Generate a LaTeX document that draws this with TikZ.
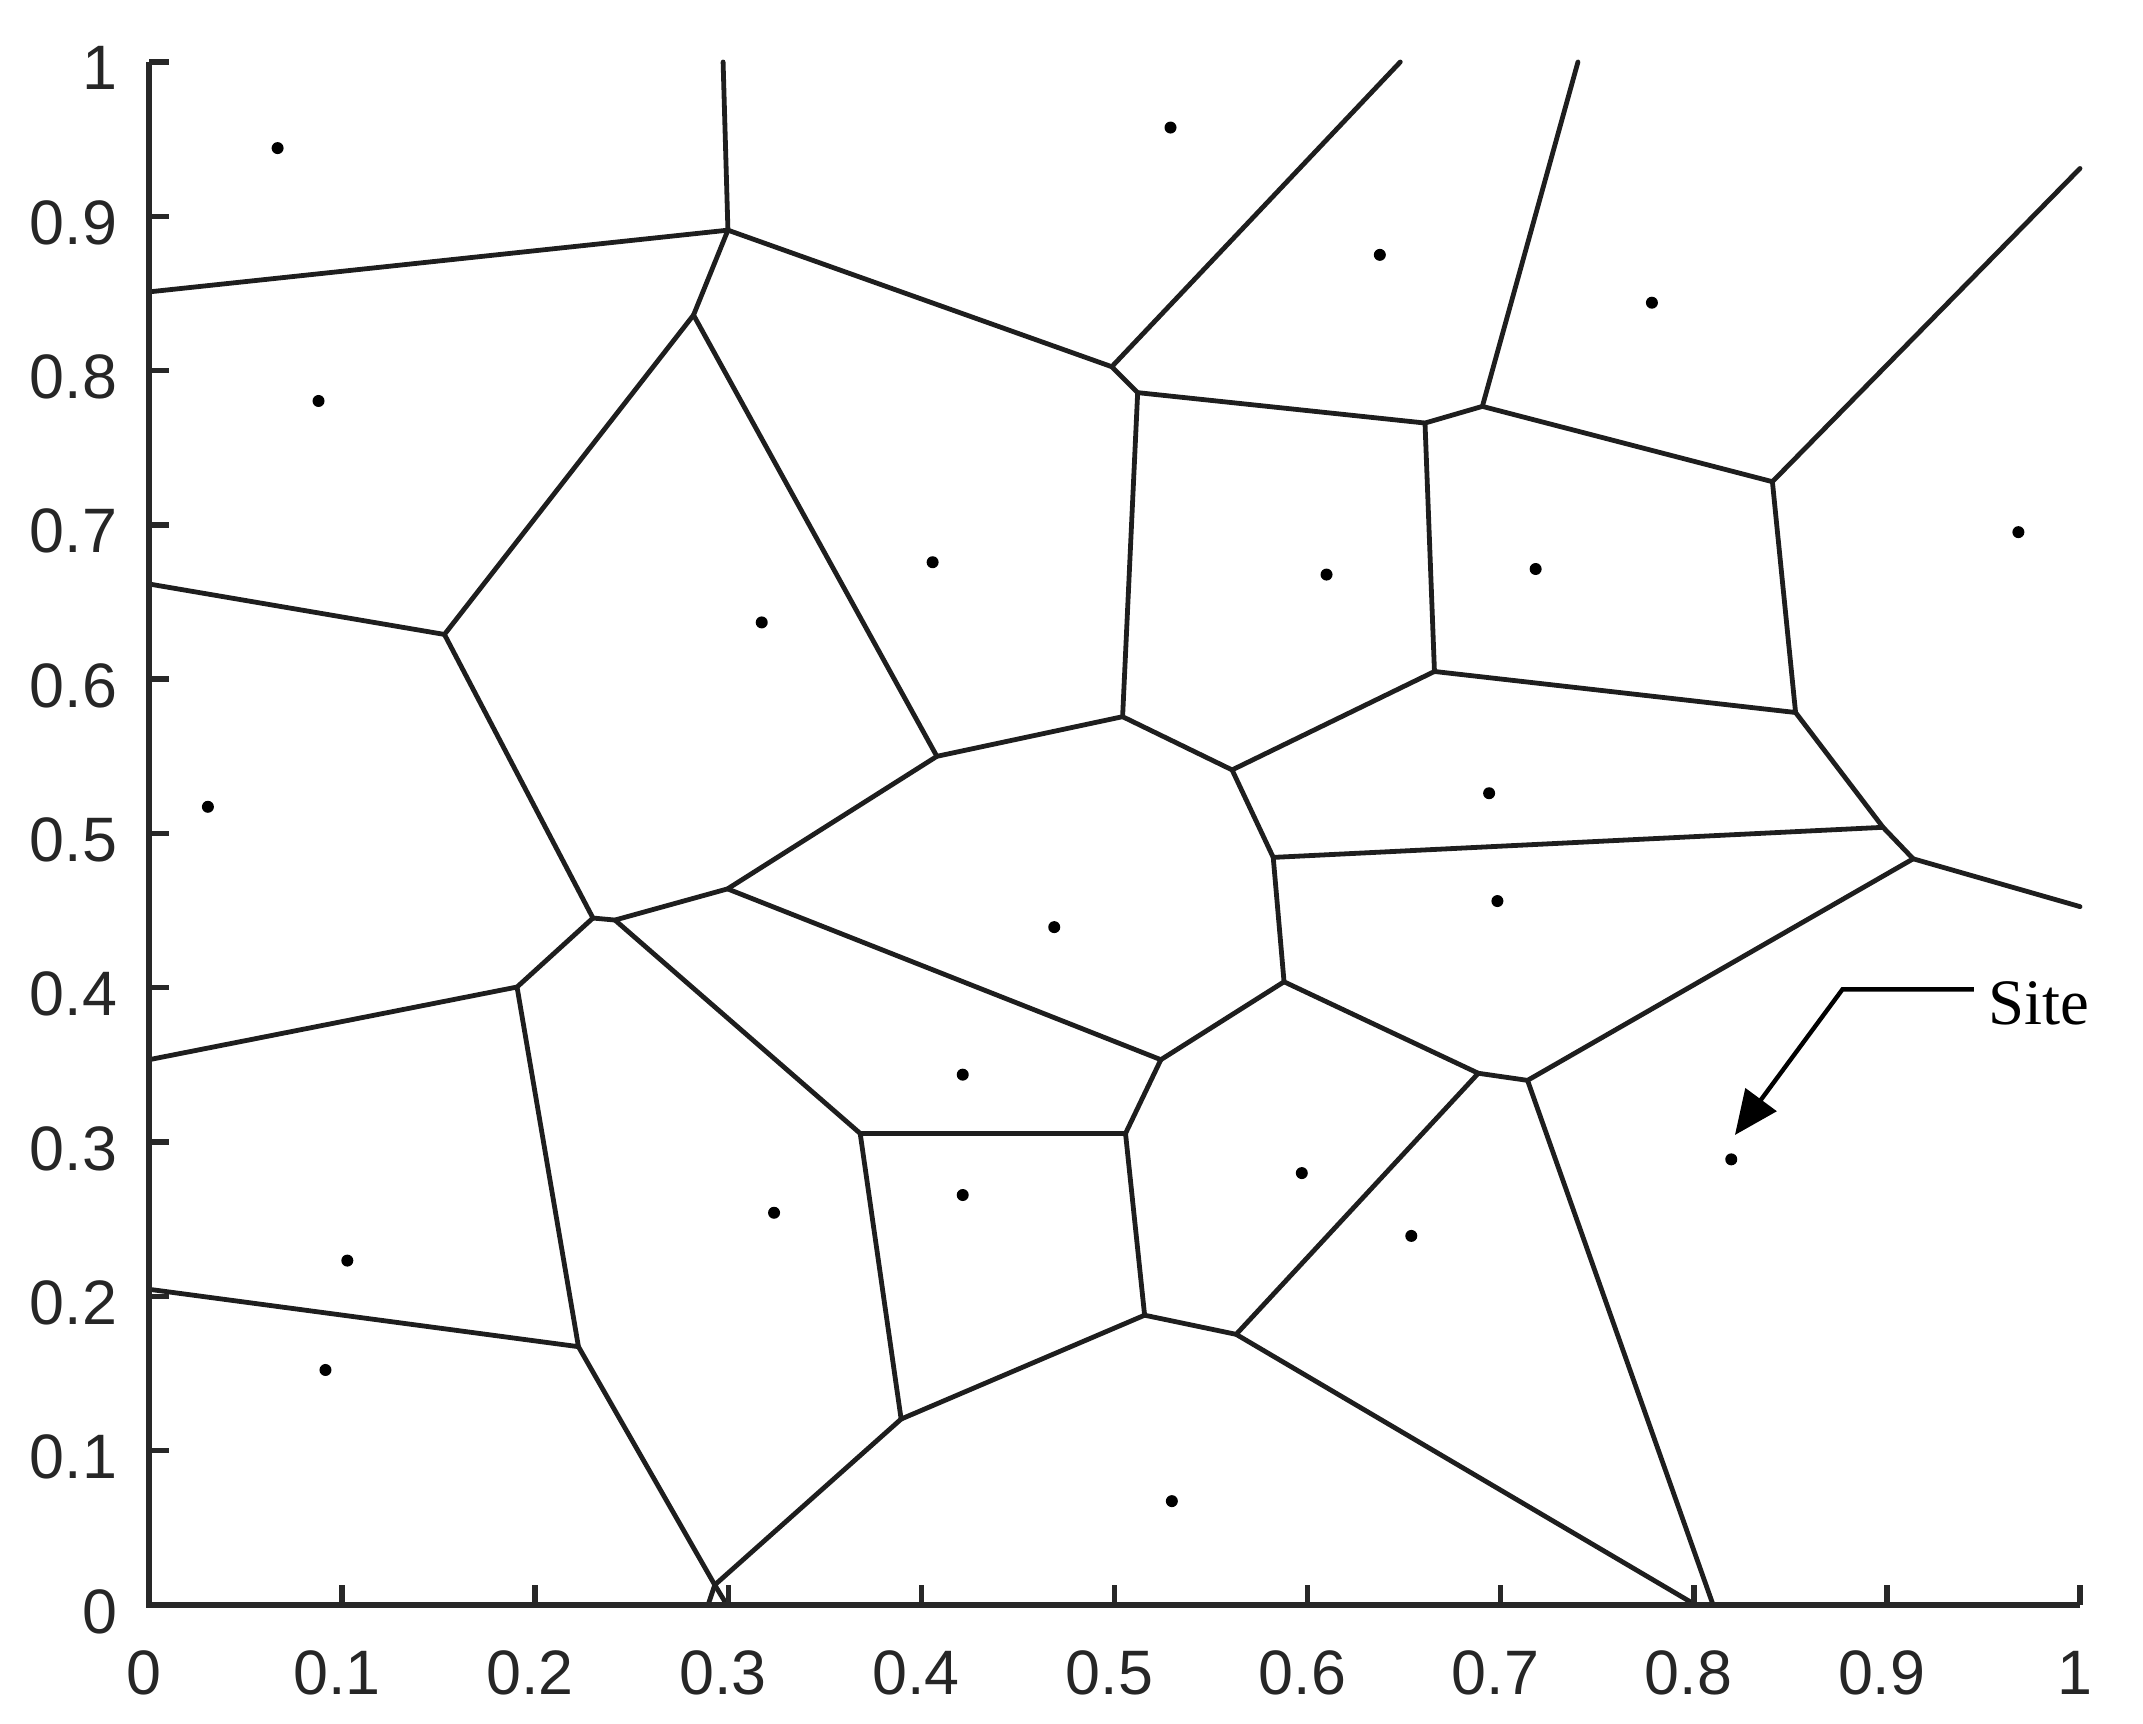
\documentclass[tikz,border=0pt]{standalone}
\usepackage{fontspec}
\setmainfont{Liberation Serif}
\newfontfamily\axfont{Liberation Sans}
\usetikzlibrary{arrows.meta}
\tikzset{
  edge/.style={line width=1.2pt, draw={rgb,255:red,30;green,30;blue,30}, line cap=round, line join=round},
  axisline/.style={line width=1.35pt, draw={rgb,255:red,40;green,40;blue,40}},
  sitedot/.style={circle, fill=black, inner sep=0pt, minimum size=3pt},
  ylab/.style={anchor=east, inner sep=0pt, font=\axfont\fontsize{15.7}{18}\selectfont, text=black!85, xshift=-7.75pt, yshift=-1.6pt},
  xlab/.style={anchor=north, inner sep=0pt, font=\axfont\fontsize{15.7}{18}\selectfont, text=black!85, yshift=-11.25pt, xshift=-1.3pt},
  pointer/.style={line width=1.1pt, -{Triangle[length=11pt,width=9.5pt]}},
}
\begin{document}
\begin{tikzpicture}[x=482.75pt, y=385.75pt]
\useasboundingbox (-37.25pt,-29.75pt) rectangle ++(535.75pt,431pt);

% Voronoi vertices
\coordinate (A1) at (0.2973,1);
\coordinate (B) at (0.2998,0.891);
\coordinate (C) at (0,0.851);
\coordinate (D) at (0.282,0.836);
\coordinate (E) at (0.4986,0.8025);
\coordinate (Et) at (0.648,1);
\coordinate (F) at (0.512,0.7857);
\coordinate (G) at (0.6608,0.766);
\coordinate (H) at (0.6905,0.7768);
\coordinate (Ht) at (0.740,1);
\coordinate (I) at (0.8407,0.728);
\coordinate (Ir) at (1,0.931);
\coordinate (J) at (0.8527,0.5784);
\coordinate (K) at (0.898,0.504);
\coordinate (L) at (0.9136,0.4836);
\coordinate (Lr) at (1,0.4526);
\coordinate (M) at (0.7139,0.340);
\coordinate (N) at (0.6884,0.3446);
\coordinate (O) at (0.5878,0.4039);
\coordinate (P) at (0.5822,0.4845);
\coordinate (Q) at (0.5609,0.5412);
\coordinate (G2) at (0.6657,0.605);
\coordinate (R) at (0.5042,0.5757);
\coordinate (S) at (0.408,0.550);
\coordinate (T) at (0.2996,0.4641);
\coordinate (U1) at (0.2299,0.4452);
\coordinate (U2) at (0.2413,0.4439);
\coordinate (V) at (0.153,0.629);
\coordinate (Vl) at (0,0.6617);
\coordinate (W) at (0.1906,0.4005);
\coordinate (Wl) at (0,0.3534);
\coordinate (X) at (0.2224,0.1674);
\coordinate (Xl) at (0,0.2046);
\coordinate (Y) at (0.293,0.013);
\coordinate (Yl) at (0.2895,0);
\coordinate (Yr) at (0.2993,0);
\coordinate (Z) at (0.3895,0.1205);
\coordinate (AA) at (0.3683,0.3056);
\coordinate (AB) at (0.5057,0.3056);
\coordinate (AE) at (0.524,0.3534);
\coordinate (AC) at (0.5156,0.1878);
\coordinate (AD) at (0.563,0.1754);
\coordinate (Bl) at (0.801,0);
\coordinate (Br) at (0.810,0);

% Voronoi edges
\draw[edge] (A1) -- (B) -- (C);
\draw[edge] (B) -- (D);
\draw[edge] (B) -- (E) -- (Et);
\draw[edge] (E) -- (F) -- (G) -- (H) -- (Ht);
\draw[edge] (H) -- (I) -- (Ir);
\draw[edge] (I) -- (J) -- (G2) -- (G);
\draw[edge] (J) -- (K) -- (P);
\draw[edge] (K) -- (L) -- (Lr);
\draw[edge] (L) -- (M) -- (N) -- (O) -- (P) -- (Q) -- (G2);
\draw[edge] (M) -- (Br);
\draw[edge] (N) -- (AD) -- (Bl);
\draw[edge] (O) -- (AE);
\draw[edge] (Q) -- (R) -- (F);
\draw[edge] (R) -- (S) -- (D);
\draw[edge] (S) -- (T) -- (U2) -- (U1);
\draw[edge] (T) -- (AE) -- (AB) -- (AA) -- (U2);
\draw[edge] (U1) -- (V) -- (D);
\draw[edge] (V) -- (Vl);
\draw[edge] (U1) -- (W) -- (Wl);
\draw[edge] (W) -- (X) -- (Xl);
\draw[edge] (X) -- (Y) -- (Yr);
\draw[edge] (Z) -- (Y) -- (Yl);
\draw[edge] (Z) -- (AA);
\draw[edge] (Z) -- (AC) -- (AB);
\draw[edge] (AC) -- (AD);

% axes
\draw[axisline] (0,1) -- (0,0) -- (1,0);
\foreach \v/\l [count=\i] in {0/0,0.1/0.1,0.2/0.2,0.3/0.3,0.4/0.4,0.5/0.5,0.6/0.6,0.7/0.7,0.8/0.8,0.9/0.9,1/1}{
  \draw[axisline] (0,\v) -- ++(5pt,0);
  \draw[axisline] (\v,0) -- ++(0,5pt);
  \node[ylab] (yl\i) at (0,\v) {\l};
  \node[xlab] (xl\i) at (\v,0) {\l};
}

% sites
\foreach \x/\y [count=\k] in {0.0666/0.9442, 0.529/0.9575, 0.6374/0.875, 0.7783/0.844, 0.0878/0.7803,
  0.4058/0.6758, 0.6098/0.6678, 0.7181/0.6714, 0.9681/0.6953, 0.3173/0.6368, 0.0305/0.5173,
  0.694/0.5261, 0.6983/0.4562, 0.4688/0.4393, 0.4214/0.3437, 0.597/0.2799, 0.8194/0.2888,
  0.3237/0.2542, 0.4214/0.2657, 0.6537/0.2392, 0.1027/0.2232, 0.0914/0.1523, 0.5297/0.0673}{
  \node[sitedot] (s\k) at (\x,\y) {};
}

% annotation
\node[anchor=base west, inner sep=0pt, font=\fontsize{16.2}{19}\selectfont] (sitelbl) at (0.952,0.3765) {Site};
\coordinate (lineend) at (0.945,0.399);
\coordinate (elbow) at (0.877,0.399);
\coordinate (tip) at (0.8213,0.3046);
\draw[pointer] (lineend) -- (elbow) -- (tip);
\end{tikzpicture}
\end{document}
